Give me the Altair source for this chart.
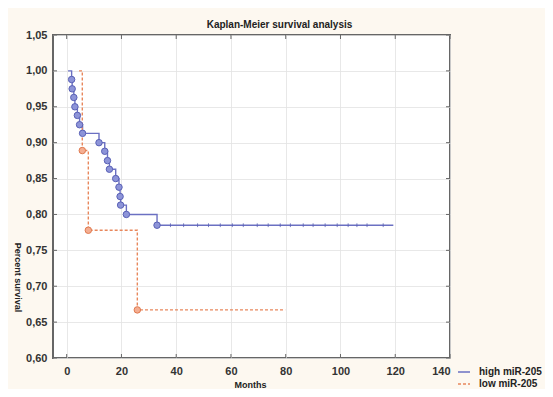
import altair as alt
import pandas as pd

groups = ["high miR-205", "low miR-205"]

# Kaplan-Meier step points (time in months, survival proportion)
high_t = [0.5, 1.8, 2.0, 2.6, 3.0, 3.9, 4.7, 5.8, 11.8, 13.9, 14.9, 15.6, 17.9, 19.1, 19.5, 19.7, 21.8, 33.0, 119.3]
high_s = [1.0, 0.988, 0.975, 0.963, 0.950, 0.938, 0.925, 0.913, 0.900, 0.888, 0.875, 0.863, 0.850, 0.838, 0.825, 0.813, 0.800, 0.785, 0.785]
low_t = [4.5, 5.7, 7.9, 25.8, 79.8]
low_s = [1.0, 0.889, 0.778, 0.667, 0.667]

# censored observations on the high group plateau
high_censor_t = [37.9, 42.7, 47.8, 51.8, 56.1, 60.5, 64.5, 69.6, 73.6, 78.0, 81.7, 86.4, 90.0, 94.4, 98.8, 102.8, 106.0, 109.7, 115.6]
high_censor_s = 0.785

x_ticks = [0, 20, 40, 60, 80, 100, 120, 140]
y_ticks = [0.60, 0.65, 0.70, 0.75, 0.80, 0.85, 0.90, 0.95, 1.00, 1.05]

line_colors = ["#6b70c2", "#e8875c"]
fill_colors = ["#8d94d8", "#f4ae92"]
edge_colors = ["#5a61b6", "#e07a4f"]

rows, ev = [], []
for i, (t, s) in enumerate(zip(high_t, high_s)):
    rows.append({"group": groups[0], "t": t, "s": s})
    if 0 < i < len(high_t) - 1:
        ev.append({"group": groups[0], "t": t, "s": s})
for i, (t, s) in enumerate(zip(low_t, low_s)):
    rows.append({"group": groups[1], "t": t, "s": s})
    if 0 < i < len(low_t) - 1:
        ev.append({"group": groups[1], "t": t, "s": s})
lines_df = pd.DataFrame(rows)
events_df = pd.DataFrame(ev)
censor_df = pd.DataFrame({"group": groups[0], "t": high_censor_t, "s": high_censor_s})
xt_df = pd.DataFrame({"t": x_ticks})
yt_df = pd.DataFrame({"s": y_ticks})

W, H = 397, 323
xs = alt.Scale(domain=[-5, 140], nice=False, zero=False)
ys = alt.Scale(domain=[0.6, 1.05], nice=False, zero=False)

x_axis = alt.Axis(values=x_ticks, grid=True, gridColor="#e2e2e2", gridWidth=0.8,
                  ticks=False, domain=False, labelFontSize=11, labelFontWeight="bold",
                  labelColor="#333333", labelPadding=7, labelFont="Liberation Sans",
                  labelOverlap=False,
                  titleFont="Liberation Sans", titleFontSize=9, titleFontWeight="bold",
                  titleColor="#222222", titleX=197, titleY=26, titleBaseline="middle")
y_axis = alt.Axis(values=y_ticks, grid=True, gridColor="#e2e2e2", gridWidth=0.8,
                  ticks=False, domain=False, labelFontSize=11, labelFontWeight="bold",
                  labelColor="#333333", labelPadding=6, labelFont="Liberation Sans",
                  labelOverlap=False,
                  labelExpr="replace(format(datum.value, '.2f'), '.', ',')",
                  titleFont="Liberation Sans", titleFontSize=9, titleFontWeight="bold",
                  titleColor="#222222", titleAngle=90, titleX=-36, titleY=242,
                  titleAlign="center", titleBaseline="middle")

X = alt.X("t:Q", scale=xs, axis=x_axis, title="Months")
Y = alt.Y("s:Q", scale=ys, axis=y_axis, title="Percent survival")

lines = alt.Chart(lines_df).mark_line(interpolate="step-after", strokeWidth=1.4).encode(
    x=X, y=Y,
    color=alt.Color("group:N", scale=alt.Scale(domain=groups, range=line_colors),
                    legend=alt.Legend(title=None, orient="none", legendX=404, legendY=330,
                                      symbolType="stroke", symbolSize=144, symbolStrokeWidth=1.5,
                                      labelFontSize=10, labelFontWeight="bold", labelColor="#222222",
                                      labelFont="Liberation Sans", rowPadding=-2, labelOffset=8)),
    strokeDash=alt.StrokeDash("group:N", scale=alt.Scale(domain=groups, range=[[1, 0], [3, 2]]),
                              legend=alt.Legend(title=None, orient="none", legendX=404, legendY=330)),
)

points = alt.Chart(events_df).mark_point(filled=True, size=42, strokeWidth=1, opacity=1).encode(
    x=X, y=Y,
    fill=alt.Fill("group:N", scale=alt.Scale(domain=groups, range=fill_colors), legend=None),
    stroke=alt.Stroke("group:N", scale=alt.Scale(domain=groups, range=edge_colors), legend=None),
)

censors = alt.Chart(censor_df).mark_point(shape="M0,-1L0,1", size=14, strokeWidth=1, opacity=0.8).encode(
    x=X, y=Y,
    stroke=alt.Stroke("group:N", scale=alt.Scale(domain=groups, range=edge_colors), legend=None),
)

tick_color = "#666666"
top_ticks = alt.Chart(xt_df).mark_rule(color=tick_color, strokeWidth=1).encode(
    x=X, y=alt.value(0), y2=alt.value(4))
bot_ticks = alt.Chart(xt_df).mark_rule(color=tick_color, strokeWidth=1).encode(
    x=X, y=alt.value(H), y2=alt.value(H - 4))
left_ticks = alt.Chart(yt_df).mark_rule(color=tick_color, strokeWidth=1).encode(
    y=Y, x=alt.value(0), x2=alt.value(4))
right_ticks = alt.Chart(yt_df).mark_rule(color=tick_color, strokeWidth=1).encode(
    y=Y, x=alt.value(W), x2=alt.value(W - 4))

chart = alt.layer(lines, censors, points, top_ticks, bot_ticks, left_ticks, right_ticks).properties(
    width=W, height=H,
    title=alt.TitleParams("Kaplan-Meier survival analysis", fontSize=10, fontWeight="bold",
                          font="Liberation Sans", color="#222222", anchor="middle", dx=28, dy=5,
                          offset=4),
    autosize=alt.AutoSizeParams(type="none"),
    padding={"left": 45, "top": 27, "right": 95, "bottom": 31},
    background="#fdf8f0",
).configure_view(
    fill="white", stroke="#666666", strokeWidth=2
)

chart.save("out.html", embed_options={"renderer": "svg", "actions": False})
